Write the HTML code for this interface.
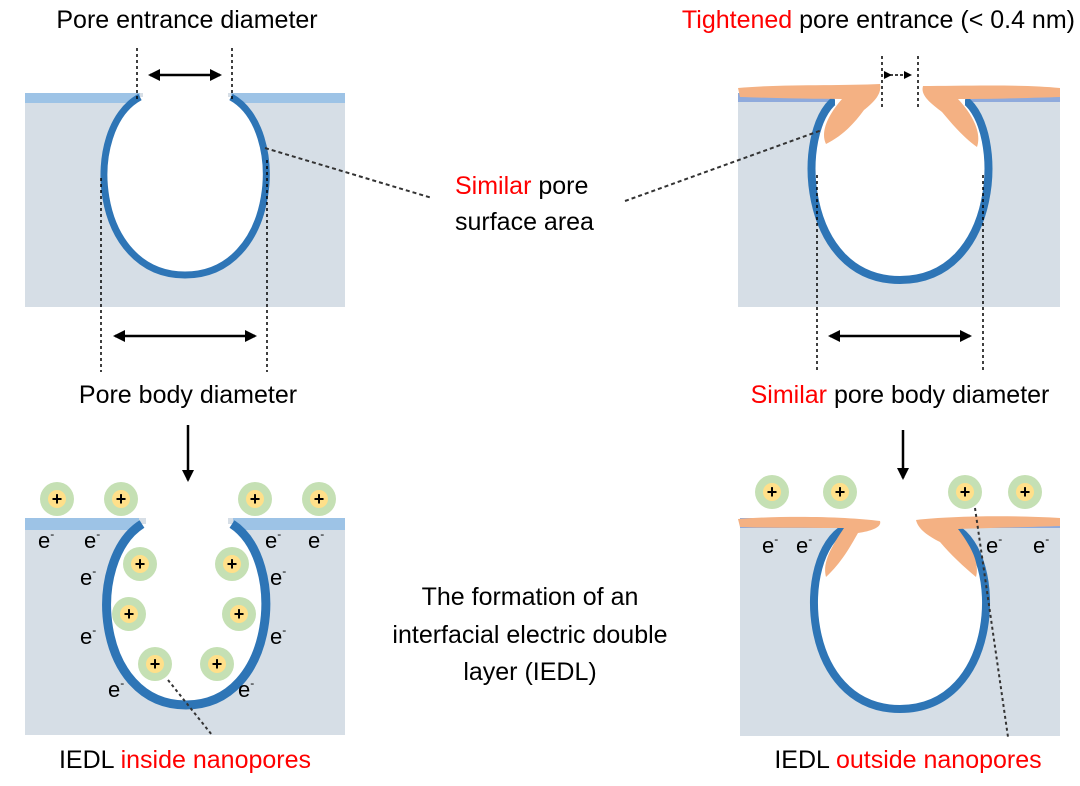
<!DOCTYPE html>
<html><head><meta charset="utf-8"><style>
html,body{margin:0;padding:0;background:#fff;}
svg{display:block;}
text{font-family:"Liberation Sans",Arial,sans-serif;}
</style></head><body>
<svg width="1080" height="786" viewBox="0 0 1080 786" xmlns="http://www.w3.org/2000/svg">
<defs>
<marker id="ah" markerWidth="8" markerHeight="8" refX="6" refY="4" orient="auto" markerUnits="userSpaceOnUse"><path d="M0,0 L8,4 L0,8 z" fill="#000"/></marker>
<marker id="ahs" markerWidth="12" markerHeight="12" refX="10" refY="6" orient="auto-start-reverse" markerUnits="userSpaceOnUse"><path d="M0,0 L12,6 L0,12 z" fill="#000"/></marker>
<g id="ion"><circle r="17" fill="#c5e0b4"/><circle r="9" fill="#ffe08a"/><text y="6" text-anchor="middle" font-size="18" font-weight="bold" fill="#000">+</text></g>
</defs>

<!-- Top-left -->
<rect x="25" y="93" width="320" height="214" fill="#d6dee6"/>
<rect x="25" y="93" width="115" height="10" fill="#9dc3e6"/>
<rect x="231" y="93" width="114" height="10" fill="#9dc3e6"/>
<path d="M140,97 C82,128 92,275 185,275 C278,275 288,128 231,97" fill="#fff" stroke="#2e75b6" stroke-width="7"/>
<rect x="143" y="80" width="85" height="24" fill="#fff"/>
<line x1="137" y1="48" x2="137" y2="100" stroke="#000" stroke-width="1.5" stroke-dasharray="3,3"/>
<line x1="232" y1="48" x2="232" y2="100" stroke="#000" stroke-width="1.5" stroke-dasharray="3,3"/>
<line x1="150" y1="75" x2="220" y2="75" stroke="#000" stroke-width="2.5" marker-start="url(#ahs)" marker-end="url(#ahs)"/>
<line x1="101" y1="178" x2="101" y2="372" stroke="#000" stroke-width="1.5" stroke-dasharray="3,3"/>
<line x1="267" y1="160" x2="267" y2="372" stroke="#000" stroke-width="1.5" stroke-dasharray="3,3"/>
<line x1="115" y1="336" x2="255" y2="336" stroke="#000" stroke-width="2.5" marker-start="url(#ahs)" marker-end="url(#ahs)"/>
<text x="187" y="28" text-anchor="middle" font-size="25">Pore entrance diameter</text>
<text x="188" y="403" text-anchor="middle" font-size="25">Pore body diameter</text>

<!-- Top-right -->
<rect x="738" y="93" width="322" height="214" fill="#d6dee6"/>
<rect x="738" y="93" width="322" height="9" fill="#8faadc"/>
<path d="M835,100 C795,130 800,280 900,280 C1000,280 1005,130 965,100" fill="#fff" stroke="#2e75b6" stroke-width="8"/>
<rect x="835" y="93" width="130" height="12" fill="#fff"/>
<path d="M738,88 C780,84 840,86 880,84 C882,94 874,102 864,110 C854,124 842,136 826,144 C820,132 828,115 842,99 C810,99 770,98 740,97 Z" fill="#f4b183"/>
<path d="M1060,88 C1020,84 960,86 923,86 C920,96 932,104 942,112 C952,124 964,138 977,147 C982,132 972,114 958,99 C990,99 1030,98 1060,97 Z" fill="#f4b183"/>
<line x1="882" y1="56" x2="882" y2="107" stroke="#000" stroke-width="1.5" stroke-dasharray="3,3"/>
<line x1="918" y1="56" x2="918" y2="107" stroke="#000" stroke-width="1.5" stroke-dasharray="3,3"/>
<line x1="890" y1="75" x2="910" y2="75" stroke="#000" stroke-width="1.5" stroke-dasharray="3,2" marker-start="url(#ah)" marker-end="url(#ah)"/>
<line x1="817" y1="175" x2="817" y2="372" stroke="#000" stroke-width="1.5" stroke-dasharray="3,3"/>
<line x1="983" y1="175" x2="983" y2="372" stroke="#000" stroke-width="1.5" stroke-dasharray="3,3"/>
<line x1="830" y1="336" x2="970" y2="336" stroke="#000" stroke-width="2.5" marker-start="url(#ahs)" marker-end="url(#ahs)"/>
<text x="1075" y="28" text-anchor="end" font-size="25"><tspan fill="#ff0000">Tightened</tspan> pore entrance (&lt; 0.4 nm)</text>
<text x="900" y="403" text-anchor="middle" font-size="25"><tspan fill="#ff0000">Similar</tspan> pore body diameter</text>

<!-- middle -->
<line x1="265" y1="148" x2="432" y2="198" stroke="#333" stroke-width="2" stroke-dasharray="4,3"/>
<line x1="625" y1="201" x2="822" y2="130" stroke="#333" stroke-width="2" stroke-dasharray="4,3"/>
<text x="455" y="194" font-size="25"><tspan fill="#ff0000">Similar</tspan> pore</text>
<text x="455" y="230" font-size="25">surface area</text>
<line x1="188" y1="425" x2="188" y2="480" stroke="#000" stroke-width="2.5" marker-end="url(#ahs)"/>
<line x1="903" y1="430" x2="903" y2="478" stroke="#000" stroke-width="2.5" marker-end="url(#ahs)"/>
<text x="530" y="605" text-anchor="middle" font-size="25">The formation of an</text>
<text x="530" y="643" text-anchor="middle" font-size="25">interfacial electric double</text>
<text x="530" y="680" text-anchor="middle" font-size="25">layer (IEDL)</text>

<!-- Bottom-left -->
<rect x="25" y="518" width="320" height="217" fill="#d6dee6"/>
<rect x="25" y="518" width="114" height="12" fill="#9dc3e6"/>
<rect x="233" y="518" width="112" height="12" fill="#9dc3e6"/>
<path d="M142,524 C85,560 95,705 186,705 C277,705 287,560 232,524" fill="#fff" stroke="#2e75b6" stroke-width="9"/>
<rect x="146" y="505" width="82" height="22" fill="#fff"/>
<g font-size="22" fill="#000">
<text x="38" y="548">e<tspan font-size="12" dy="-10">-</tspan></text>
<text x="84" y="548">e<tspan font-size="12" dy="-10">-</tspan></text>
<text x="80" y="585">e<tspan font-size="12" dy="-10">-</tspan></text>
<text x="80" y="644">e<tspan font-size="12" dy="-10">-</tspan></text>
<text x="108" y="697">e<tspan font-size="12" dy="-10">-</tspan></text>
<text x="265" y="548">e<tspan font-size="12" dy="-10">-</tspan></text>
<text x="308" y="548">e<tspan font-size="12" dy="-10">-</tspan></text>
<text x="270" y="585">e<tspan font-size="12" dy="-10">-</tspan></text>
<text x="270" y="644">e<tspan font-size="12" dy="-10">-</tspan></text>
<text x="238" y="697">e<tspan font-size="12" dy="-10">-</tspan></text>
</g>
<use href="#ion" x="57" y="499"/><use href="#ion" x="121" y="499"/><use href="#ion" x="255" y="499"/><use href="#ion" x="319" y="499"/>
<use href="#ion" x="140" y="564"/><use href="#ion" x="232" y="564"/><use href="#ion" x="129" y="614"/><use href="#ion" x="239" y="614"/><use href="#ion" x="155" y="664"/><use href="#ion" x="217" y="664"/>
<line x1="168" y1="680" x2="212" y2="735" stroke="#333" stroke-width="2" stroke-dasharray="3,3"/>
<text x="185" y="768" text-anchor="middle" font-size="25">IEDL <tspan fill="#ff0000">inside nanopores</tspan></text>

<!-- Bottom-right -->
<rect x="740" y="522" width="320" height="214" fill="#d6dee6"/>
<rect x="740" y="518" width="320" height="10" fill="#8faadc"/>
<path d="M845,528 C795,555 800,709 900,709 C1000,709 1005,555 955,528" fill="#fff" stroke="#2e75b6" stroke-width="8"/>
<rect x="845" y="515" width="110" height="14" fill="#fff"/>
<path d="M738,519 C790,515 850,517 880,521 C882,527 872,531 858,533 C850,547 842,562 826,577 C822,562 832,546 844,528 C810,528 770,528 740,527 Z" fill="#f4b183"/>
<path d="M1060,518 C1010,515 950,516 916,520 C918,529 928,536 940,542 C950,554 964,567 976,577 C980,562 970,545 958,529 C990,528 1030,527 1060,526 Z" fill="#f4b183"/>
<g font-size="22" fill="#000">
<text x="762" y="553">e<tspan font-size="12" dy="-10">-</tspan></text>
<text x="796" y="553">e<tspan font-size="12" dy="-10">-</tspan></text>
<text x="986" y="553">e<tspan font-size="12" dy="-10">-</tspan></text>
<text x="1033" y="553">e<tspan font-size="12" dy="-10">-</tspan></text>
</g>
<use href="#ion" x="772" y="492"/><use href="#ion" x="840" y="492"/><use href="#ion" x="965" y="492"/><use href="#ion" x="1025" y="492"/>
<line x1="975" y1="508" x2="1008" y2="737" stroke="#333" stroke-width="2" stroke-dasharray="3,3"/>
<text x="908" y="768" text-anchor="middle" font-size="25">IEDL <tspan fill="#ff0000">outside nanopores</tspan></text>
</svg>
</body></html>
